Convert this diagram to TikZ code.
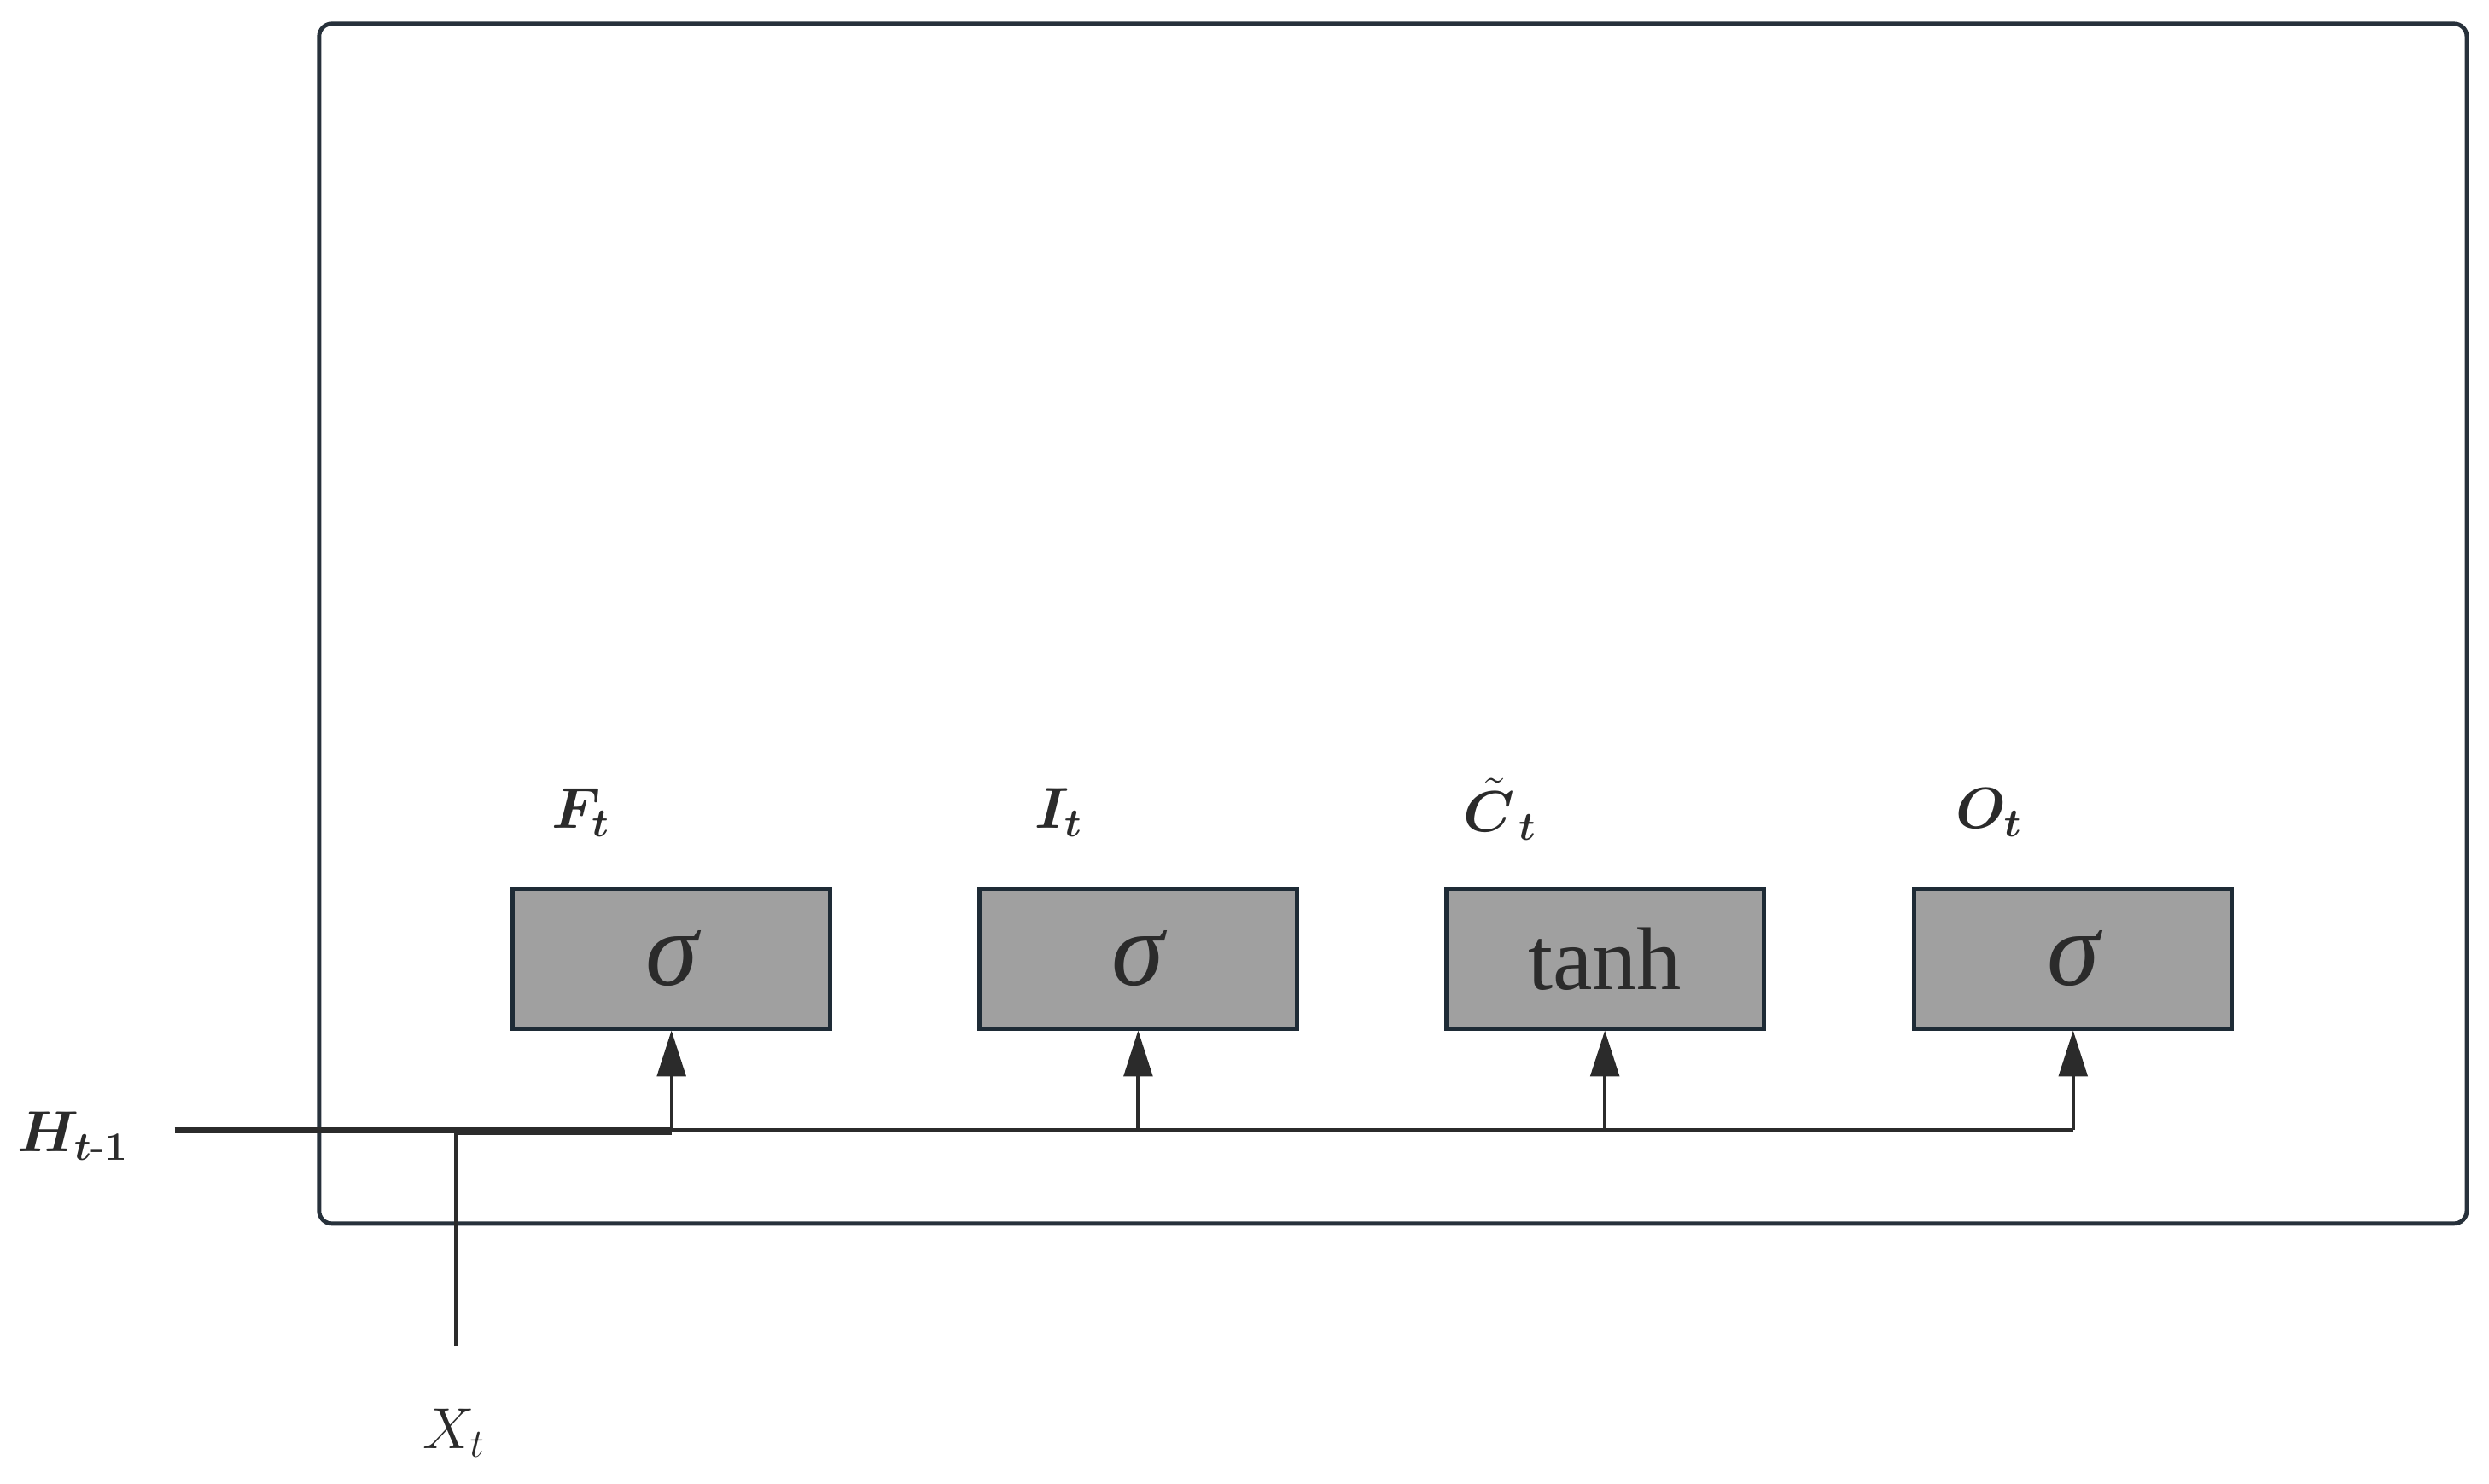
\documentclass[tikz,border=0pt]{standalone}
\usepackage{amsmath}
\usepackage{bm}
\usepackage{fontspec}
\newfontfamily\tnr{Liberation Serif}
\usetikzlibrary{arrows.meta}
\definecolor{framec}{HTML}{27313B}
\definecolor{boxfill}{HTML}{A0A0A0}
\definecolor{boxline}{HTML}{1E2B36}
\definecolor{txt}{HTML}{2B2B2B}
\begin{document}
\begin{tikzpicture}[x=0.02cm,y=-0.02cm,
  gatebox/.style={draw=boxline,fill=boxfill,line width=1.5pt,minimum width=4cm,minimum height=1.76cm,inner sep=0pt,text=txt,font=\tnr\itshape\fontsize{38}{44}\selectfont},
  tanhbox/.style={gatebox,font=\tnr\fontsize{32}{38}\selectfont},
  lbl/.style={text=txt,font=\fontsize{21}{25}\selectfont,inner sep=0pt},
  conn/.style={draw=txt,line width=1.3pt},
  arr/.style={conn,-{Triangle[length=0.58cm,width=0.36cm]}}]
\useasboundingbox (0,0) rectangle (1568,935);
\draw[framec,line width=1.5pt,rounded corners=0.16cm] (201,15) rectangle (1554,771);
\node[gatebox] (f) at (423,604) {σ};
\node[gatebox] (i) at (717,604) {σ};
\node[tanhbox] (c) at (1011,604) {tanh};
\node[gatebox] (o) at (1306,604) {σ};
\node[lbl] (fl) at (366,512) {$\bm{F_t}$};
\node[lbl] (il) at (667,512) {$\bm{I_t}$};
\node[lbl] (cl) at (945,510) {$\bm{\tilde{C}_{\,t}}$};
\node[lbl] (ol) at (1253,512) {$\bm{O_t}$};
\node[lbl] (hl) at (46,716) {$\bm{H_{t\text{-}1}}$};
\node[lbl] (xl) at (286,903) {$X_t$};
\coordinate (hs) at (110,712);
\coordinate (xs) at (287,848);
\coordinate (xc) at (287,714);
\coordinate (jf) at (f.south |- hs);
\coordinate (jo) at (o.south |- hs);
\draw[conn,line width=2.1pt] (hs) -- (jf);
\draw[conn] (xs) -- (xc) -- (jf |- xc);
\draw[conn] (jf) -- (jo);
\draw[arr] (jf) -- (f.south);
\draw[arr] (i.south |- hs) -- (i.south);
\draw[arr] (c.south |- hs) -- (c.south);
\draw[arr] (jo) -- (o.south);
\end{tikzpicture}
\end{document}
